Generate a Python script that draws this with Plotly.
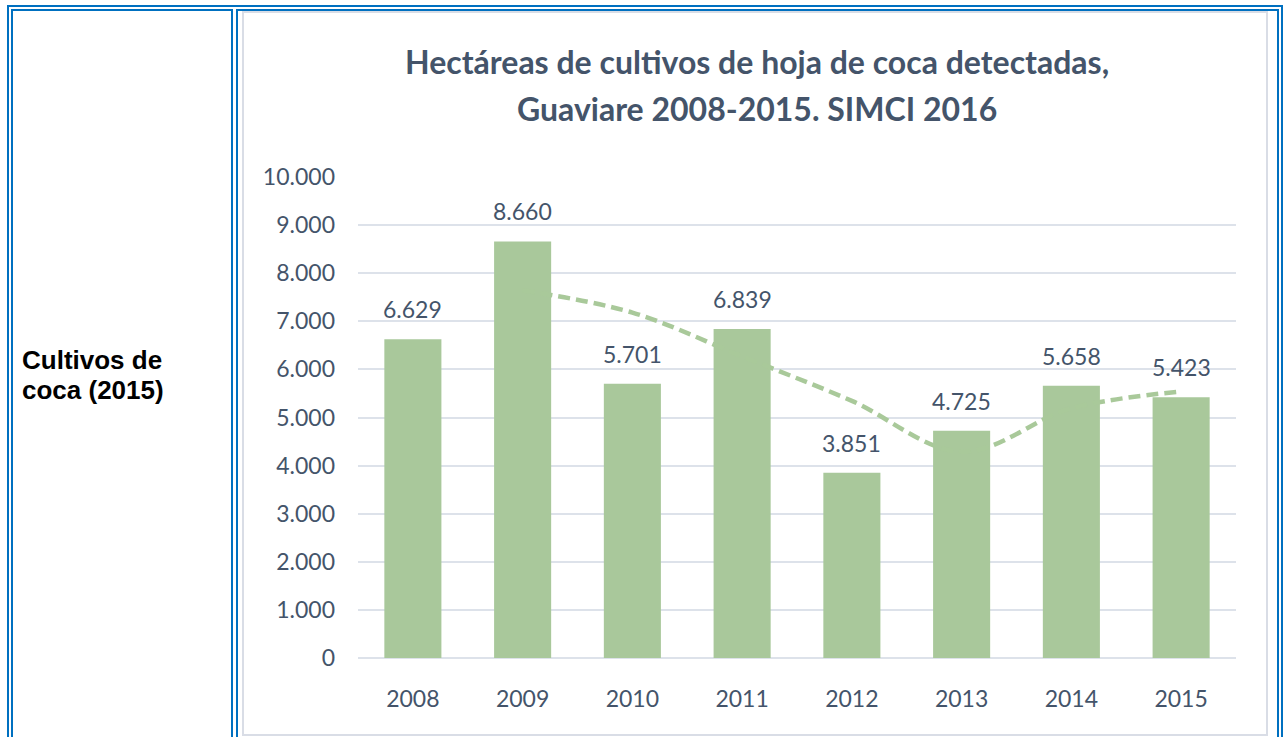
import plotly.graph_objects as go

years = ["2008", "2009", "2010", "2011", "2012", "2013", "2014", "2015"]
hectares = [6629, 8660, 5701, 6839, 3851, 4725, 5658, 5423]
trend_years = ["2009", "2010", "2011", "2012", "2013", "2014", "2015"]
trend_values = [7644.5, 7180.5, 6270, 5345, 4288, 5191.5, 5540.5]
title_lines = ["Hectáreas de cultivos de hoja de coca detectadas,", "Guaviare 2008-2015. SIMCI 2016"]
side_lines = ["Cultivos de", "coca (2015)"]

W, H = 1283, 737
L, R, T, B = 358, 1236, 177, 658
TXT = "#44546A"
BLUE = "#0070C0"
GRID = "#DDE2EA"

def px(x):
    return (x - L) / (R - L)

def py(y):
    return (B - y) / (B - T)

fig = go.Figure()
fig.add_trace(go.Bar(x=years, y=hectares, width=0.52,
                     marker=dict(color="#A9C89B", line=dict(width=0)),
                     hoverinfo="x+y", showlegend=False))
fig.add_trace(go.Scatter(x=trend_years, y=trend_values, mode="lines",
                         line=dict(color="#A9C99A", width=4.5, dash="12px,6px", shape="spline"),
                         showlegend=False, hoverinfo="skip"))

annotations = []
for i, v in enumerate(hectares):
    annotations.append(dict(x=i, y=v, xref="x", yref="y", text=f"{v:,}".replace(",", "."),
                            showarrow=False, yanchor="bottom", yshift=14,
                            font=dict(family="Lato", size=23, color=TXT)))
for line, yc in zip(title_lines, [62, 108]):
    annotations.append(dict(x=px(757), y=py(yc), xref="paper", yref="paper", text="<b>" + line + "</b>",
                            showarrow=False, xanchor="center", yanchor="middle",
                            font=dict(family="Lato", size=32, color=TXT)))
for line, yc in zip(side_lines, [360, 390]):
    annotations.append(dict(x=px(20), y=py(yc), xref="paper", yref="paper", text="<b>" + line + "</b>",
                            showarrow=False, xanchor="left", yanchor="middle", align="left",
                            font=dict(family="Liberation Sans", size=26, color="#000000")))

shapes = []
# chart frame
shapes.append(dict(type="rect", xref="paper", yref="paper", x0=px(243), x1=px(1267), y0=py(735), y1=py(12),
                   line=dict(color="#D9DDE6", width=2), layer="below"))
# table double borders
for x0, x1, y0, y1 in [(8, 1282, 6, 760), (12, 232, 10, 760), (237, 1278, 10, 760)]:
    shapes.append(dict(type="rect", xref="paper", yref="paper", x0=px(x0), x1=px(x1), y0=py(y1), y1=py(y0),
                       line=dict(color=BLUE, width=2)))

fig.update_layout(
    width=W, height=H,
    margin=dict(l=L, r=W - R, t=T, b=H - B),
    paper_bgcolor="white", plot_bgcolor="white",
    separators=",.",
    bargap=0.48,
    annotations=annotations,
    shapes=shapes,
    xaxis=dict(type="category", range=[-0.5, 7.5], autorange=False, showgrid=False, showline=False, ticks="",
               tickfont=dict(family="Lato", size=23, color=TXT), ticklabelstandoff=25),
    yaxis=dict(range=[0, 10000], autorange=False, dtick=1000, tickformat=",d", showgrid=True, gridcolor=GRID,
               gridwidth=2, zeroline=True, zerolinecolor=GRID, zerolinewidth=2, showline=False, ticks="",
               tickfont=dict(family="Lato", size=23, color=TXT), ticklabelstandoff=22),
)

fig.write_html("out.html", config={"displayModeBar": False},
               post_script="document.documentElement.style.overflow='hidden';"
                           "document.body.style.margin='0';document.body.style.overflow='hidden';")
